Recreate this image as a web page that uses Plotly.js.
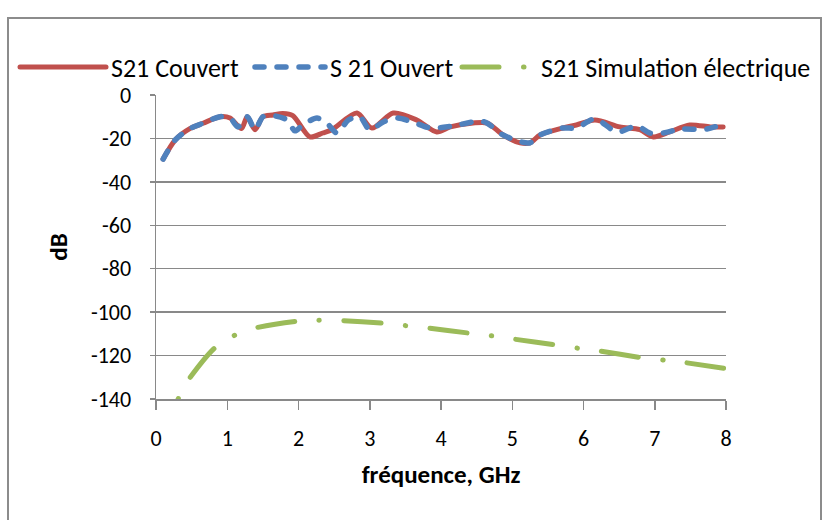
<!DOCTYPE html>
<html>
<head>
<meta charset="utf-8">
<script src="https://cdn.plot.ly/plotly-3.0.1.min.js"></script>
<style>
  html, body { margin: 0; padding: 0; background: #fff; }
  #wrap { position: relative; width: 823px; height: 520px; }
  #chart { position: absolute; left: 0; top: 0; width: 823px; height: 520px; }
  #frame { position: absolute; left: 7px; top: 17px; width: 815px; height: 520px;
           border: 2px solid #8c8c8c; border-bottom: none; pointer-events: none; box-sizing: border-box; }
  .js-line { stroke-linecap: round; stroke-linejoin: round; }
  .legend3 path.js-line { stroke-dashoffset: 25px; }
</style>
</head>
<body>
<div id="wrap">
  <div id="chart"></div>
  <div id="frame"></div>
</div>
<script>
// Frequencies (GHz) and S21 (dB)
const couvertX = [0.1, 0.27, 0.48, 0.66, 0.9, 1.04, 1.2, 1.28, 1.39, 1.5, 1.64, 1.78, 1.92, 2.16, 2.34, 2.47, 2.82, 3.03, 3.33, 3.66, 3.94, 4.13, 4.45, 4.65, 4.87, 5.11, 5.25, 5.39, 5.71, 5.9, 6.16, 6.51, 6.79, 6.98, 7.21, 7.49, 7.78, 7.96];
const couvertY = [-29.5, -20.7, -15.4, -13, -10, -10.6, -15.4, -10, -16, -10, -9.2, -8.5, -9.5, -19.3, -17.5, -16, -8.3, -15.2, -8.3, -11.5, -17, -14.7, -12.9, -12.9, -18.4, -22, -22, -18.4, -15.2, -13.8, -11.5, -14.7, -16, -19.3, -17, -13.8, -14.7, -14.7];

const ouvertX = [0.1, 0.27, 0.48, 0.66, 0.9, 1.04, 1.15, 1.28, 1.39, 1.5, 1.64, 1.84, 1.95, 2.06, 2.26, 2.4, 2.54, 2.7, 2.86, 3.0, 3.19, 3.38, 3.6, 3.85, 4.13, 4.55, 4.65, 4.87, 5.11, 5.25, 5.39, 5.71, 5.9, 6.16, 6.47, 6.75, 6.93, 7.12, 7.36, 7.73, 7.99];
const ouvertY = [-29.5, -20.7, -15.4, -13, -10, -10.6, -14.7, -10, -16, -10, -9.5, -11.5, -16.5, -13.8, -10.6, -13, -17.5, -11.5, -10, -16, -12.4, -10.6, -12.4, -15.2, -14.5, -12, -13, -18.4, -21.5, -22, -18.4, -15.2, -15.2, -11, -17, -14.3, -17.5, -17.5, -15.7, -15.7, -12.9];

const simX = [0.31, 0.45, 0.82, 1.09, 1.39, 1.97, 2.28, 2.6, 3.18, 3.5, 3.81, 4.38, 4.71, 5.02, 5.61, 5.92, 6.23, 6.8, 7.13, 7.44, 8.0];
const simY = [-140, -131.4, -116.6, -110.9, -107.3, -104.2, -103.7, -103.9, -105.1, -106.2, -107.3, -109.6, -110.9, -112.4, -115.1, -116.6, -117.9, -120.9, -122.1, -123.3, -126];

const seriesNames = ['S21 Couvert', 'S 21 Ouvert', 'S21 Simulation électrique'];
const xTickVals = [0, 1, 2, 3, 4, 5, 6, 7, 8];
const yTickVals = [0, -20, -40, -60, -80, -100, -120, -140];

const FONT = "Carlito, Calibri, 'Liberation Sans Narrow', 'Noto Sans', sans-serif";

const traces = [
  { x: couvertX, y: couvertY, name: seriesNames[0], mode: 'lines', legend: 'legend',
    line: { color: '#C0504D', width: 5, shape: 'spline', smoothing: 0.8 } },
  { x: ouvertX, y: ouvertY, name: seriesNames[1], mode: 'lines', legend: 'legend2',
    line: { color: '#4F81BD', width: 5.5, shape: 'spline', smoothing: 0.8, dash: '9px,13px' } },
  { x: simX, y: simY, name: seriesNames[2], mode: 'lines', legend: 'legend3',
    line: { color: '#9BBB59', width: 5, shape: 'spline', smoothing: 0.6, dash: '0.5px,24.5px,37px,24.5px' } }
];

function px2paperX(px) { return (px - 156) / 570; }
const legY = (399 - 67) / 304;
const legCommon = {
  orientation: 'h', xanchor: 'left', y: legY, yanchor: 'middle',
  font: { family: FONT, size: 26, color: '#000' },
  bgcolor: 'rgba(0,0,0,0)', borderwidth: 0
};

const layout = {
  width: 823, height: 520,
  margin: { l: 156, r: 97, t: 95, b: 121, autoexpand: false },
  paper_bgcolor: '#ffffff', plot_bgcolor: '#ffffff',
  font: { family: FONT, color: '#000000', size: 22 },
  showlegend: true,
  legend: Object.assign({}, legCommon, { x: px2paperX(15), itemwidth: 86 }),
  legend2: Object.assign({}, legCommon, { x: px2paperX(250), itemwidth: 70 }),
  legend3: Object.assign({}, legCommon, { x: px2paperX(457), itemwidth: 74 }),
  xaxis: {
    range: [0, 8], tickvals: xTickVals, ticktext: xTickVals.map(String),
    showgrid: false, zeroline: false,
    showline: true, linecolor: '#898989', linewidth: 1.5,
    ticks: 'outside', ticklen: 9, tickcolor: '#898989', tickwidth: 1.5,
    ticklabelstandoff: 10,
    tickfont: { family: FONT, size: 22 },
    title: { text: '<b>fréquence, GHz</b>', font: { family: FONT, size: 25 }, standoff: 14 }
  },
  yaxis: {
    range: [-140, 0], tickvals: yTickVals, ticktext: yTickVals.map(String),
    showgrid: true, gridcolor: '#898989', gridwidth: 1.5, zeroline: false,
    showline: true, linecolor: '#898989', linewidth: 1.5,
    ticks: 'outside', ticklen: 5, tickcolor: '#898989', tickwidth: 1.5,
    ticklabelstandoff: 14,
    tickfont: { family: FONT, size: 22 },
    title: { text: '<b>dB</b>', font: { family: FONT, size: 25 }, standoff: 16 }
  }
};

Plotly.newPlot('chart', traces, layout, { staticPlot: true, displayModeBar: false });
</script>
</body>
</html>
